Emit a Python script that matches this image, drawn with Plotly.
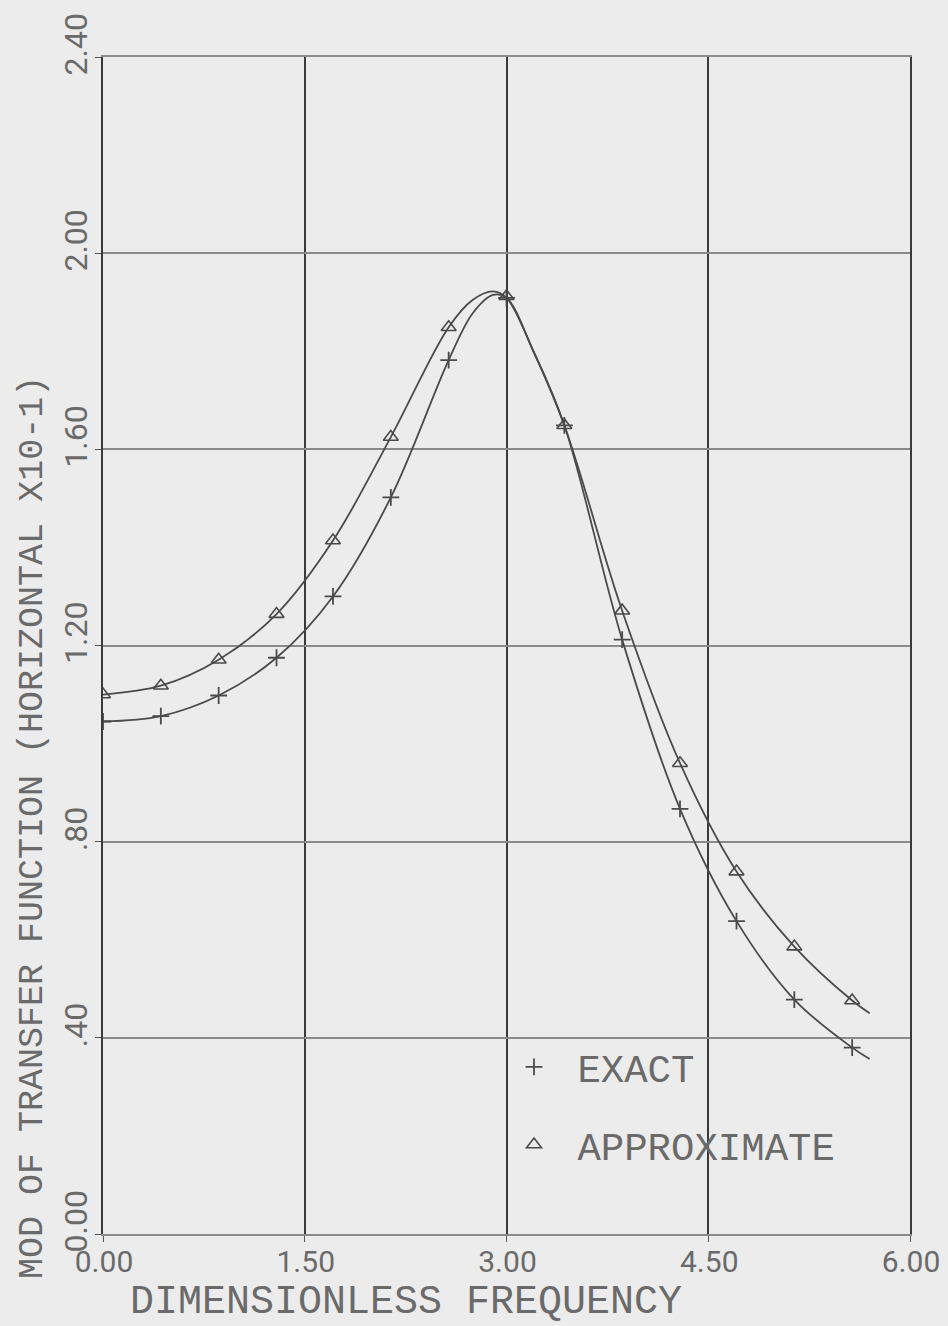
import plotly.graph_objects as go

# ---- data ----
freq_markers = [0.00, 0.43, 0.86, 1.29, 1.71, 2.14, 2.57, 3.00, 3.43, 3.86, 4.29, 4.71, 5.14, 5.57]
exact_markers = [1.045, 1.056, 1.098, 1.175, 1.300, 1.502, 1.782, 1.909, 1.649, 1.212, 0.867, 0.638, 0.478, 0.380]
approx_markers = [1.100, 1.118, 1.171, 1.264, 1.414, 1.625, 1.849, 1.912, 1.649, 1.271, 0.960, 0.739, 0.586, 0.476]

exact_curve_x = [0.00, 0.43, 0.86, 1.29, 1.71, 2.14, 2.57, 2.75, 2.90, 3.00, 3.20, 3.43, 3.86, 4.29, 4.71, 5.14, 5.57, 5.70]
exact_curve_y = [1.045, 1.056, 1.098, 1.175, 1.300, 1.502, 1.782, 1.878, 1.915, 1.909, 1.800, 1.649, 1.212, 0.867, 0.638, 0.478, 0.380, 0.357]
approx_curve_x = [0.00, 0.43, 0.86, 1.29, 1.71, 2.14, 2.57, 2.75, 2.90, 3.00, 3.20, 3.43, 3.86, 4.29, 4.71, 5.14, 5.57, 5.70]
approx_curve_y = [1.100, 1.118, 1.171, 1.264, 1.414, 1.625, 1.849, 1.905, 1.922, 1.909, 1.800, 1.649, 1.271, 0.960, 0.739, 0.586, 0.476, 0.450]

x_tickvals = [0.0, 1.5, 3.0, 4.5, 6.0]
x_ticktext = ["0.00", "1.50", "3.00", "4.50", "6.00"]
y_tickvals = [0.0, 0.4, 0.8, 1.2, 1.6, 2.0, 2.4]
y_ticktext = ["0.00", ".40", ".80", "1.20", "1.60", "2.00", "2.40"]

x_title = "DIMENSIONLESS FREQUENCY"
y_title = "MOD OF TRANSFER FUNCTION (HORIZONTAL X10-1)"
series_names = ["EXACT", "APPROXIMATE"]

# ---- styling ----
FONT = "Liberation Mono, DejaVu Sans Mono, monospace"
NUMFONT = "Roboto, Liberation Sans, sans-serif"
TXT = "#6a6a6a"
LINE = "#4a4a4a"
BG = "#ececec"

fig = go.Figure()

fig.add_trace(go.Scatter(x=exact_curve_x, y=exact_curve_y, mode="lines",
                         line=dict(color=LINE, width=1.8, shape="spline", smoothing=1.0),
                         showlegend=False, hoverinfo="skip"))
fig.add_trace(go.Scatter(x=approx_curve_x, y=approx_curve_y, mode="lines",
                         line=dict(color=LINE, width=1.8, shape="spline", smoothing=1.0),
                         showlegend=False, hoverinfo="skip"))

fig.add_trace(go.Scatter(x=freq_markers, y=exact_markers, mode="markers",
                         name=" " + series_names[0], legendgroup="a",
                         marker=dict(symbol="cross-thin-open", size=12,
                                     line=dict(color=LINE, width=1.8), color=LINE)))
fig.add_trace(go.Scatter(x=freq_markers, y=approx_markers, mode="markers",
                         name=" " + series_names[1], legendgroup="b",
                         marker=dict(symbol="triangle-up-open", size=13,
                                     line=dict(color=LINE, width=1.6), color=LINE)))

L, R, T, B = 103, 910, 57, 1234
W, H = 948, 1326

fig.update_layout(
    width=W, height=H,
    margin=dict(l=L, r=W - R, t=T, b=H - B, pad=0, autoexpand=False),
    paper_bgcolor=BG, plot_bgcolor=BG,
    font=dict(family=FONT, color=TXT),
    showlegend=True,
    legend=dict(x=(514 - L) / (R - L), y=(B - 1035) / (B - T), xanchor="left", yanchor="top",
                bgcolor="rgba(0,0,0,0)", font=dict(size=39, color=TXT, family=FONT),
                traceorder="grouped", tracegroupgap=24, itemsizing="trace"),
    xaxis=dict(range=[0, 6], tickvals=x_tickvals, ticktext=x_ticktext, automargin=False,
               showgrid=True, gridcolor="#3a3a3a", gridwidth=1.6,
               showline=True, linecolor="#8a8a8a", linewidth=1.6, mirror=True,
               ticks="outside", ticklen=6, tickcolor="#555", tickwidth=1.4,
               tickfont=dict(size=30, color=TXT, family=NUMFONT),
               ticklabeloverflow="allow",
               ticklabelshift=1, ticklabelstandoff=-6, zeroline=False),
    yaxis=dict(range=[0, 2.4], tickvals=y_tickvals, ticktext=y_ticktext, automargin=False,
               showgrid=True, gridcolor="#8a8a8a", gridwidth=1.6,
               showline=True, linecolor="#3a3a3a", linewidth=1.8, mirror=True,
               ticks="outside", ticklen=6, tickcolor="#555", tickwidth=1.4,
               tickangle=-90, tickfont=dict(size=32, color=TXT, family=NUMFONT),
               ticklabeloverflow="allow",
               ticklabelshift=-8, ticklabelstandoff=-5, zeroline=False),
)

fig.add_annotation(text=x_title, xref="paper", yref="paper",
                   x=(406 - L) / (R - L), y=(B - 1302) / (B - T),
                   xanchor="center", yanchor="middle", showarrow=False,
                   font=dict(size=40, color=TXT, family=FONT))
fig.add_annotation(text=y_title, xref="paper", yref="paper",
                   x=(33 - L) / (R - L), y=(B - 828) / (B - T),
                   xanchor="center", yanchor="middle", showarrow=False, textangle=-90,
                   font=dict(size=35, color=TXT, family=FONT))

fig.write_html("out.html", config={"displayModeBar": False},
               post_script="document.body.style.margin='0';")
